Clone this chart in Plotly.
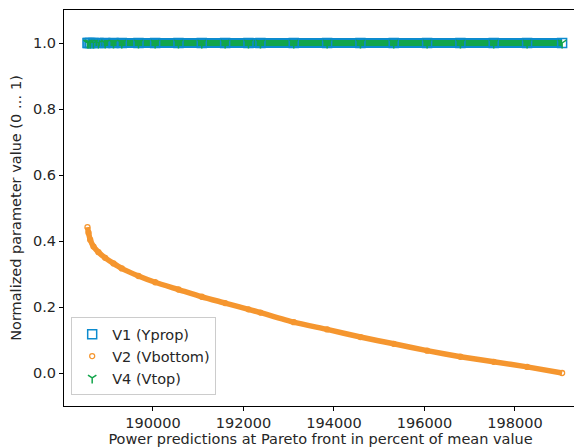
import plotly.graph_objects as go

# Pareto-front power predictions (x) and normalized parameter values
power = [188552, 188575, 188612, 188685, 188795, 188943, 189127, 189310, 189679,
         190048, 190563, 191078, 191595, 192110, 192375, 193111, 193849, 194585,
         195321, 196059, 196795, 197531, 198269, 199043]
v2_vbottom = [0.442, 0.425, 0.404, 0.383, 0.366, 0.349, 0.332, 0.317, 0.294,
              0.275, 0.253, 0.231, 0.212, 0.193, 0.183, 0.154, 0.132, 0.109,
              0.0885, 0.0678, 0.0493, 0.0339, 0.0185, 0.0]
v1_yprop = [1.0] * len(power)
v4_vtop = [1.0] * len(power)

x_ticks = [190000, 192000, 194000, 196000, 198000]
y_ticks = [0.0, 0.2, 0.4, 0.6, 0.8, 1.0]

BLUE = "#0C8BCE"
ORANGE = "#F5962F"
GREEN = "#12A54B"
FONT = "DejaVu Sans"
TXT = "#262626"
FS = 14.5

fig = go.Figure()

# dense bands (the reference shows thousands of overlapping markers)
fig.add_trace(go.Scatter(x=power, y=v1_yprop, mode="lines",
                         line=dict(color=BLUE, width=10), showlegend=False, hoverinfo="skip"))
fig.add_trace(go.Scatter(x=power, y=v2_vbottom, mode="lines",
                         line=dict(color=ORANGE, width=5.5, shape="spline", smoothing=0.6),
                         showlegend=False, hoverinfo="skip"))
fig.add_trace(go.Scatter(x=power, y=v4_vtop, mode="lines",
                         line=dict(color=GREEN, width=6), showlegend=False, hoverinfo="skip"))

# marker series (also legend entries)
fig.add_trace(go.Scatter(x=power, y=v1_yprop, mode="markers", name="V1 (Yprop)",
                         legendgroup="a",
                         marker=dict(symbol="square-open", size=9, color=BLUE,
                                     line=dict(color=BLUE, width=1.5))))
fig.add_trace(go.Scatter(x=power, y=v2_vbottom, mode="markers", name="V2 (Vbottom)",
                         legendgroup="b",
                         marker=dict(symbol="circle-open", size=5, color=ORANGE,
                                     line=dict(color=ORANGE, width=1.3))))
fig.add_trace(go.Scatter(x=power, y=v4_vtop, mode="markers", name="V4 (Vtop)",
                         legendgroup="c",
                         marker=dict(symbol="y-down", size=7, color=GREEN,
                                     line=dict(color=GREEN, width=1.5))))

axis_common = dict(showline=True, linecolor="black", linewidth=1, mirror=True,
                   ticks="outside", ticklen=4, tickwidth=1, tickcolor="black",
                   showgrid=False, zeroline=False, automargin=False,
                   tickfont=dict(family=FONT, size=FS, color=TXT))

fig.update_xaxes(range=[188033, 199372], tickvals=x_ticks,
                 ticktext=[str(v) for v in x_ticks],
                 title=dict(text="Power predictions at Pareto front in percent of mean value",
                            font=dict(family=FONT, size=FS, color=TXT), standoff=2),
                 **axis_common)
fig.update_yaxes(range=[-0.1, 1.1], tickvals=y_ticks,
                 ticktext=[f"{v:.1f}" for v in y_ticks],
                 title=dict(text="Normalized parameter value (0 … 1)",
                            font=dict(family=FONT, size=FS, color=TXT), standoff=8),
                 **axis_common)

# page body has an 8px margin, so the figure is drawn 8px smaller and shifted
fig.update_layout(
    width=574, height=439, autosize=False,
    margin=dict(l=56, r=5, t=2, b=41),
    plot_bgcolor="white", paper_bgcolor="white",
    font=dict(family=FONT, size=FS, color=TXT),
    legend=dict(x=0.014, y=0.027, xanchor="left", yanchor="bottom",
                bgcolor="rgba(255,255,255,0.8)", bordercolor="#cccccc", borderwidth=1,
                font=dict(family=FONT, size=FS, color=TXT),
                traceorder="grouped", tracegroupgap=0,
                entrywidth=112, entrywidthmode="pixels"),
)

fig.write_html("out.html")
